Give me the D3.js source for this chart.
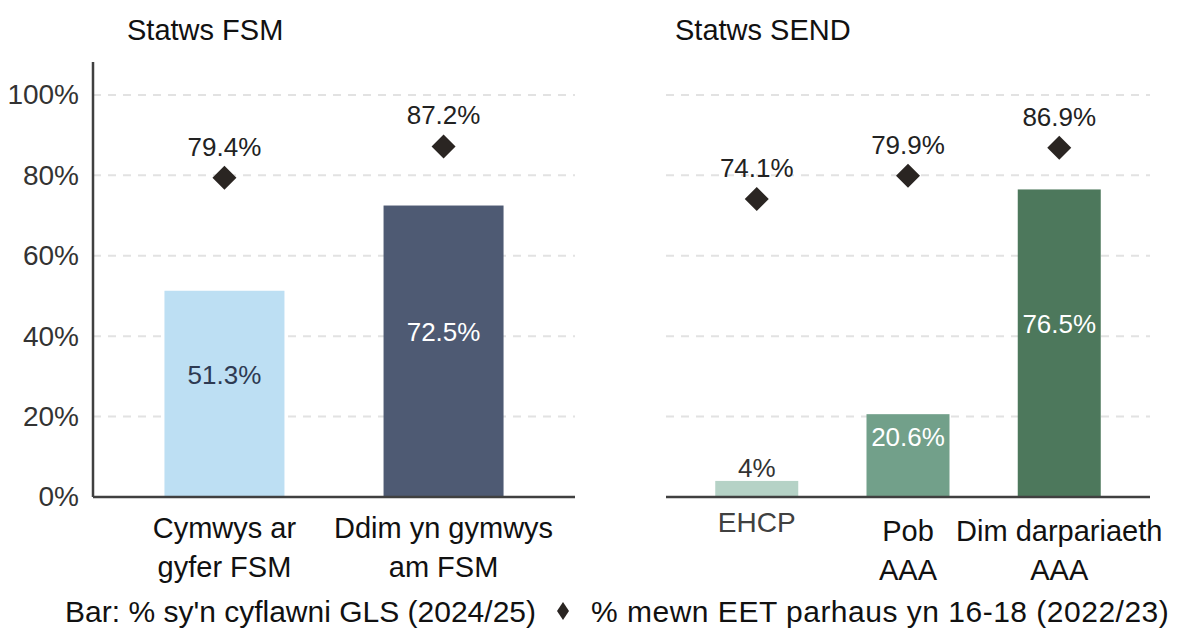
<!DOCTYPE html>
<html>
<head>
<meta charset="utf-8">
<script src="https://cdn.jsdelivr.net/npm/d3@7"></script>
<style>
  body { margin: 0; background: #fff; }
  svg text { font-family: "Liberation Sans", Arial, sans-serif; }
</style>
</head>
<body>
<div id="chart"></div>
<script>
// data
var fsmCats = ['Cymwys ar|gyfer FSM', 'Ddim yn gymwys|am FSM'];
var fsmGls = [51.3, 72.5];
var fsmEet = [79.4, 87.2];
var sendCats = ['EHCP', 'Pob|AAA', 'Dim darpariaeth|AAA'];
var sendGls = [4, 20.6, 76.5];
var sendEet = [74.1, 79.9, 86.9];
var yTicks = [0, 20, 40, 60, 80, 100];
var panelTitles = ['Statws FSM', 'Statws SEND'];
var legendBar = "Bar: % sy'n cyflawni GLS (2024/25)";
var legendDot = '% mewn EET parhaus yn 16-18 (2022/23)';

var width = 1188, height = 628;
var fsmColors = ['#bddff3', '#4e5a73'];
var fsmLabelColors = ['#2e3a52', '#ffffff'];
var sendColors = ['#b5d2c6', '#72a08a', '#4d785c'];
var sendLabelColors = ['#333333', '#ffffff', '#ffffff'];

var svg = d3.select('#chart').append('svg')
    .attr('width', width)
    .attr('height', height);

var y = d3.scaleLinear().domain([0, 108.2]).range([497, 62]);

function drawPanel(opts){
    var x = d3.scalePoint()
        .domain(d3.range(opts.cats.length))
        .range([opts.x0, opts.x1])
        .padding(0.6);
    var g = svg.append('g');

    // gridlines
    g.selectAll('.grid')
        .data(yTicks.filter(function(d){ return d > 0; }))
        .enter().append('line')
        .attr('x1', opts.x0).attr('x2', opts.x1)
        .attr('y1', function(d){ return y(d); })
        .attr('y2', function(d){ return y(d); })
        .style('stroke', '#e2e2e2')
        .style('stroke-width', 2)
        .style('stroke-dasharray', '8,7');

    // bars
    g.selectAll('.bar')
        .data(opts.gls)
        .enter().append('rect')
        .attr('x', function(d, i){ return x(i) - opts.barW / 2; })
        .attr('y', function(d){ return y(d); })
        .attr('width', opts.barW)
        .attr('height', function(d){ return y(0) - y(d); })
        .style('fill', function(d, i){ return opts.colors[i]; });

    // bar labels
    g.selectAll('.barlabel')
        .data(opts.gls)
        .enter().append('text')
        .attr('x', function(d, i){ return x(i); })
        .attr('y', function(d){
            if (d < 10) return y(d) - 4;
            return (y(d) + y(0)) / 2 - 10;
        })
        .attr('text-anchor', 'middle')
        .style('font-size', '26px')
        .style('fill', function(d, i){ return opts.labelColors[i]; })
        .text(function(d){ return d + '%'; });

    // diamonds
    g.selectAll('.diamond')
        .data(opts.eet)
        .enter().append('path')
        .attr('d', 'M0,-12L12,0L0,12L-12,0Z')
        .attr('transform', function(d, i){ return 'translate(' + x(i) + ',' + y(d) + ')'; })
        .style('fill', '#2a2522');

    g.selectAll('.eetlabel')
        .data(opts.eet)
        .enter().append('text')
        .attr('x', function(d, i){ return x(i); })
        .attr('y', function(d){ return y(d) - 22; })
        .attr('text-anchor', 'middle')
        .style('font-size', '26px')
        .style('fill', '#222')
        .text(function(d){ return d + '%'; });

    // baseline
    g.append('line')
        .attr('x1', opts.x0).attr('x2', opts.x1)
        .attr('y1', y(0)).attr('y2', y(0))
        .style('stroke', '#404040')
        .style('stroke-width', 2.5);

    // category labels
    opts.cats.forEach(function(c, i){
        var lines = c.split('|');
        var t = g.append('text')
            .attr('text-anchor', 'middle')
            .style('font-size', lines.length == 1 ? '28px' : '29px')
            .style('fill', lines.length == 1 ? '#404040' : '#111');
        lines.forEach(function(l, j){
            t.append('tspan')
                .attr('x', x(i))
                .attr('y', (lines.length == 1 ? 532 : opts.labelY) + j * 39)
                .text(l);
        });
    });

    // title
    g.append('text')
        .attr('x', opts.titleX)
        .attr('y', 40)
        .style('font-size', '29px')
        .style('fill', '#111')
        .text(opts.title);
    return g;
}

drawPanel({
    cats: fsmCats, gls: fsmGls, eet: fsmEet,
    x0: 93, x1: 575, barW: 120,
    colors: fsmColors, labelColors: fsmLabelColors,
    labelY: 538, title: panelTitles[0], titleX: 127
});

drawPanel({
    cats: sendCats, gls: sendGls, eet: sendEet,
    x0: 666, x1: 1150, barW: 83,
    colors: sendColors, labelColors: sendLabelColors,
    labelY: 541, title: panelTitles[1], titleX: 675
});

// y axis for left panel
var yAxis = d3.axisLeft(y)
    .tickValues(yTicks)
    .tickSize(0)
    .tickPadding(14)
    .tickFormat(function(d){ return d + '%'; });

var axisG = svg.append('g')
    .attr('transform', 'translate(93,0)')
    .call(yAxis);
axisG.select('.domain')
    .attr('d', 'M0,' + y.range()[1] + 'V' + y.range()[0])
    .style('stroke', '#404040')
    .style('stroke-width', 2.5);
axisG.selectAll('text')
    .style('font-size', '28px')
    .style('fill', '#333')
    .style('font-family', '"Liberation Sans", Arial, sans-serif');

// legend
var legend = svg.append('g');
legend.append('text')
    .attr('x', 536).attr('y', 622)
    .attr('text-anchor', 'end')
    .style('font-size', '30px')
    .style('fill', '#111')
    .text(legendBar);
legend.append('path')
    .attr('d', 'M0,-9L6,0L0,9L-6,0Z')
    .attr('transform', 'translate(563,611)')
    .style('fill', '#2a2522');
legend.append('text')
    .attr('x', 591).attr('y', 622)
    .style('font-size', '30px')
    .style('letter-spacing', '0.5px')
    .style('fill', '#111')
    .text(legendDot);
</script>
</body>
</html>
